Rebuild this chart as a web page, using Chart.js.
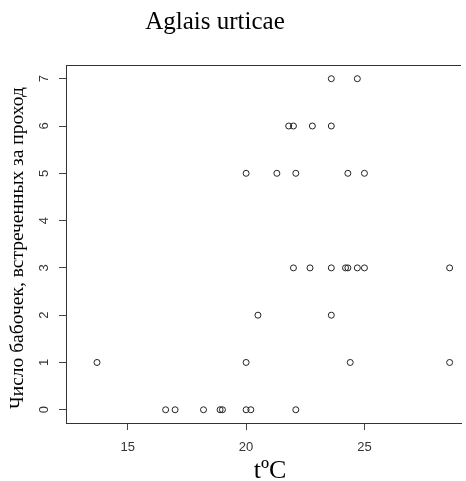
<!DOCTYPE html>
<html>
<head>
<meta charset="utf-8">
<script src="https://cdn.jsdelivr.net/npm/chart.js@4"></script>
<style>
  body { margin: 0; background: #fff; }
</style>
</head>
<body>
<canvas id="scatterChart" width="466" height="481"></canvas>
<script>
// temperature (x) and butterflies counted per walk (y), one entry per point
const tempC = [
  23.6, 24.7,
  21.8, 22.0, 22.8, 23.6,
  20.0, 21.3, 22.1, 24.3, 25.0,
  22.0, 22.7, 23.6, 24.2, 24.3, 24.7, 25.0, 28.6,
  20.5, 23.6,
  13.7, 20.0, 24.4, 28.6,
  16.6, 17.0, 18.2, 18.9, 19.0, 20.0, 20.2, 22.1,
];
const butterflies = [
  7, 7,
  6, 6, 6, 6,
  5, 5, 5, 5, 5,
  3, 3, 3, 3, 3, 3, 3, 3,
  2, 2,
  1, 1, 1, 1,
  0, 0, 0, 0, 0, 0, 0, 0,
];
const xTicks = [15, 20, 25];
const yTicks = [0, 1, 2, 3, 4, 5, 6, 7];

const titleText = "Aglais urticae";
const xLabel = "tºC";
const yLabel = "Число бабочек, встреченных за проход";

const points = tempC.map((t, i) => ({ x: t, y: butterflies[i] }));

// R style frame: title, axis labels and the top edge of the box
const frameLabels = {
  id: "frameLabels",
  afterDraw(chart) {
    const ctx = chart.ctx;
    const area = chart.chartArea;
    ctx.save();
    ctx.strokeStyle = "#333";
    ctx.lineWidth = 1;
    ctx.beginPath();
    ctx.moveTo(area.left, area.top + 0.5);
    ctx.lineTo(area.right, area.top + 0.5);
    ctx.stroke();

    ctx.fillStyle = "#000";
    ctx.textAlign = "center";
    ctx.textBaseline = "alphabetic";
    ctx.font = "25px 'Liberation Serif'";
    ctx.fillText(titleText, 215, 29);

    ctx.font = "26px 'Liberation Serif'";
    ctx.fillText(xLabel, 270, 478);

    ctx.translate(23, 248);
    ctx.rotate(-Math.PI / 2);
    ctx.font = "19.5px 'Liberation Serif'";
    ctx.fillText(yLabel, 0, 0);
    ctx.restore();
  },
};

const ctx = document.getElementById("scatterChart").getContext("2d");
new Chart(ctx, {
  type: "scatter",
  data: {
    datasets: [
      {
        label: "Aglais urticae",
        data: points,
        pointRadius: 3,
        pointBorderWidth: 1,
        borderColor: "#222",
        backgroundColor: "rgba(0,0,0,0)",
      },
    ],
  },
  options: {
    responsive: false,
    animation: false,
    layout: { padding: { top: 65, right: 0, bottom: 0, left: 0 } },
    plugins: {
      legend: { display: false },
      tooltip: { enabled: false },
    },
    scales: {
      x: {
        type: "linear",
        min: 12.39,
        max: 29.08,
        afterFit: (s) => { s.height = 58; },
        afterBuildTicks: (s) => { s.ticks = xTicks.map((v) => ({ value: v })); },
        ticks: {
          includeBounds: false,
          padding: 10,
          color: "#333",
          font: { family: "'Liberation Sans'", size: 13 },
          maxRotation: 0,
        },
        grid: {
          drawOnChartArea: false,
          tickLength: 7,
          color: "#444",
        },
        border: { display: true, color: "#333", width: 1 },
      },
      y: {
        type: "linear",
        min: -0.28,
        max: 7.29,
        afterFit: (s) => { s.width = 66; },
        afterBuildTicks: (s) => { s.ticks = yTicks.map((v) => ({ value: v })); },
        ticks: {
          includeBounds: false,
          minRotation: 90,
          maxRotation: 90,
          crossAlign: "center",
          padding: 11,
          color: "#333",
          font: { family: "'Liberation Sans'", size: 13 },
        },
        grid: {
          drawOnChartArea: false,
          tickLength: 7,
          color: "#444",
        },
        border: { display: true, color: "#333", width: 1 },
      },
    },
  },
  plugins: [frameLabels],
});
</script>
</body>
</html>
